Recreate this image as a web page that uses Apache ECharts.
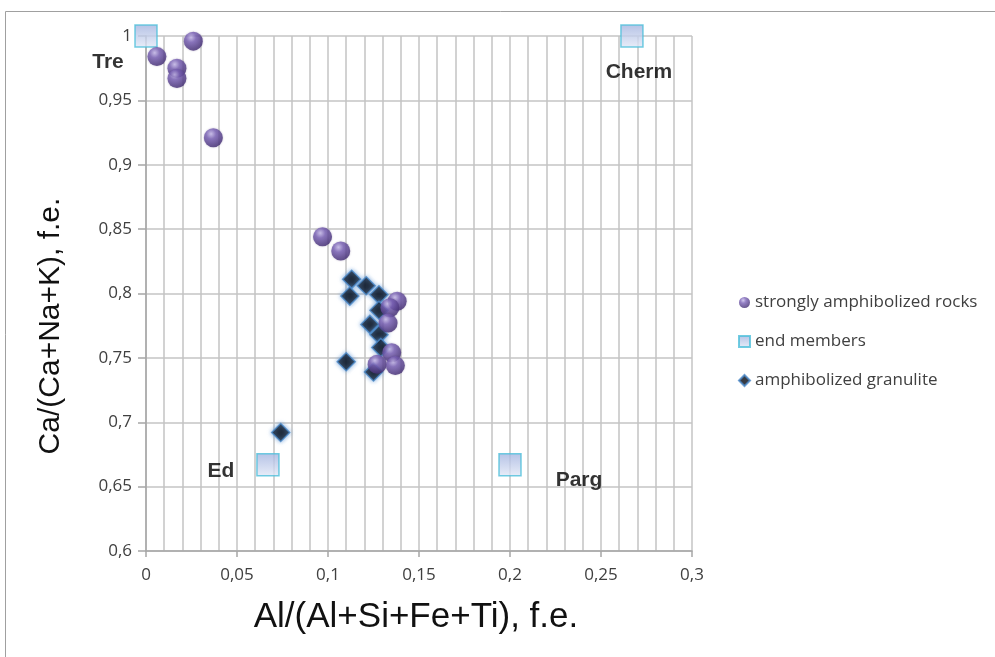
<!DOCTYPE html>
<html>
<head>
<meta charset="utf-8">
<script src="https://cdn.jsdelivr.net/npm/echarts@6/dist/echarts.min.js"></script>
<style>
  html, body { margin: 0; padding: 0; background: #fff; }
  #chart { width: 995px; height: 657px; }
</style>
</head>
<body>
<div id="chart"></div>
<script>
// data
const rocksX = [0.006, 0.026, 0.017, 0.017, 0.037, 0.097, 0.107, 0.138, 0.134, 0.133, 0.135, 0.127, 0.137];
const rocksY = [0.984, 0.996, 0.975, 0.967, 0.921, 0.844, 0.833, 0.794, 0.789, 0.777, 0.754, 0.745, 0.744];

const granX = [0.113, 0.121, 0.112, 0.128, 0.128, 0.123, 0.128, 0.129, 0.110, 0.125, 0.074];
const granY = [0.811, 0.806, 0.798, 0.799, 0.787, 0.776, 0.768, 0.758, 0.747, 0.739, 0.692];

const endNames = ['Tre', 'Cherm', 'Ed', 'Parg'];
const endX = [0, 0.267, 0.067, 0.2];
const endY = [1, 1, 0.667, 0.667];

const seriesNames = ['strongly amphibolized rocks', 'end members', 'amphibolized granulite'];

// label offsets for the end member names (pixels)
const endLabelOffsets = [[-38, 26], [7, 36], [-47, 6], [69, 15]];

const chart = echarts.init(document.getElementById('chart'));

const comma = v => String(+v.toFixed(2)).replace('.', ',');
const axisGrey = '#a6a6a6';
const gridGrey = '#c4c4c4';

const option = {
    backgroundColor: '#fff',
    animation: false,
    grid: { left: 146, top: 36, right: 303, bottom: 106 },
    legend: {
        orient: 'vertical',
        left: 733,
        top: 289,
        itemWidth: 11,
        itemHeight: 11,
        itemGap: 22,
        textStyle: { fontFamily: 'Open Sans', fontSize: 17, color: '#404040' },
        data: [
            { name: seriesNames[0], icon: 'circle' },
            { name: seriesNames[1], icon: 'rect' },
            { name: seriesNames[2], icon: 'diamond' }
        ]
    },
    xAxis: {
        type: 'value',
        min: 0, max: 0.3, interval: 0.05,
        axisLine: { show: true, onZero: false, lineStyle: { color: axisGrey, width: 1.5 } },
        axisTick: { show: true, length: 6, lineStyle: { color: axisGrey, width: 1.5 } },
        axisLabel: { formatter: comma, margin: 16, fontFamily: 'Open Sans', fontSize: 17, color: '#404040' },
        splitLine: { show: true, lineStyle: { color: gridGrey, width: 1.5 } },
        minorTick: { show: false, splitNumber: 5 },
        minorSplitLine: { show: true, lineStyle: { color: gridGrey, width: 1.5 } }
    },
    yAxis: {
        type: 'value',
        min: 0.6, max: 1, interval: 0.05,
        axisLine: { show: true, onZero: false, lineStyle: { color: axisGrey, width: 1.5 } },
        axisTick: { show: true, length: 8, lineStyle: { color: axisGrey, width: 1.5 } },
        axisLabel: { formatter: comma, margin: 14, fontFamily: 'Open Sans', fontSize: 17, color: '#404040' },
        splitLine: { show: true, lineStyle: { color: gridGrey, width: 1.5 } }
    },
    graphic: [
        {
            type: 'rect', silent: true, z: -10,
            shape: { x: 5.5, y: 11.5, width: 1100, height: 700 },
            style: { fill: 'none', stroke: '#a0a0a0', lineWidth: 1 }
        },
        {
            type: 'text', silent: true,
            x: 416, y: 617,
            style: {
                x: 0, y: 0, text: 'Al/(Al+Si+Fe+Ti), f.e.',
                font: '35px "Liberation Sans Narrow", "Liberation Sans", sans-serif',
                fill: '#111', align: 'center', verticalAlign: 'middle'
            }
        },
        {
            type: 'text', silent: true,
            x: 51, y: 326, rotation: Math.PI / 2,
            style: {
                x: 0, y: 0, text: 'Ca/(Ca+Na+K), f.e.',
                font: '30px "Liberation Sans", sans-serif',
                fill: '#111', align: 'center', verticalAlign: 'middle'
            }
        }
    ],
    series: [
        {
            name: seriesNames[1],
            type: 'scatter',
            clip: false,
            z: 2,
            symbol: 'rect',
            symbolSize: 22,
            itemStyle: {
                color: new echarts.graphic.LinearGradient(0, 0, 0, 1, [
                    { offset: 0, color: '#a3b3df' },
                    { offset: 1, color: '#e3e9f7' }
                ]),
                borderColor: '#4dbfdb',
                borderWidth: 1.5
            },
            label: {
                show: true,
                position: 'inside',
                formatter: p => p.name,
                fontFamily: 'Liberation Sans',
                fontWeight: 'bold',
                fontSize: 21,
                color: '#000',
                textBorderWidth: 0
            },
            data: endNames.map((n, i) => ({
                name: n,
                value: [endX[i], endY[i]],
                label: { offset: endLabelOffsets[i] }
            }))
        },
        {
            name: seriesNames[2],
            type: 'scatter',
            clip: false,
            z: 3,
            symbol: 'diamond',
            symbolSize: 18,
            itemStyle: {
                color: '#050a14',
                borderColor: '#4a88c8',
                borderWidth: 1.5,
                shadowBlur: 4,
                shadowColor: 'rgba(80,140,210,0.8)'
            },
            data: granX.map((x, i) => [x, granY[i]])
        },
        {
            name: seriesNames[0],
            type: 'scatter',
            clip: false,
            z: 4,
            symbol: 'circle',
            symbolSize: 19,
            itemStyle: {
                color: new echarts.graphic.RadialGradient(0.38, 0.3, 0.75, [
                    { offset: 0, color: '#c9bdec' },
                    { offset: 0.35, color: '#7a62b6' },
                    { offset: 1, color: '#3f2a6e' }
                ]),
                shadowBlur: 2,
                shadowColor: 'rgba(60,40,100,0.4)'
            },
            data: rocksX.map((x, i) => [x, rocksY[i]])
        }
    ]
};

chart.setOption(option);

window.addEventListener('resize', function () {
    chart.resize();
});
</script>
</body>
</html>
